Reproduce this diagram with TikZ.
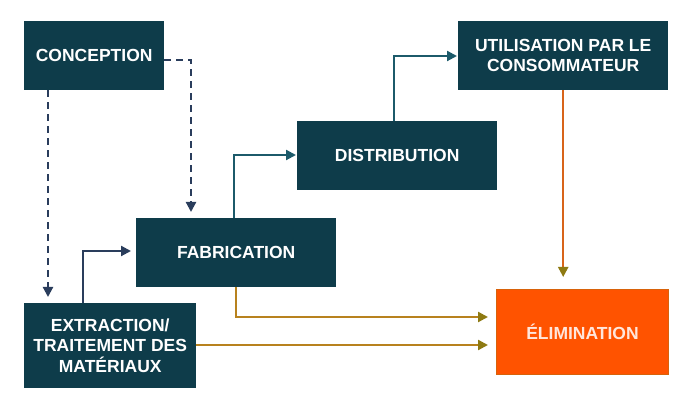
\documentclass[tikz,border=0pt]{standalone}
\usepackage{fontspec}
\setmainfont{Liberation Sans}
\usetikzlibrary{arrows.meta}
\definecolor{boxteal}{HTML}{0E3C4A}
\definecolor{navyline}{HTML}{2A3D5C}
\definecolor{tealline}{HTML}{1C5A6A}
\definecolor{oliveline}{HTML}{B8821E}
\definecolor{olivetip}{HTML}{8E7A12}
\definecolor{redline}{HTML}{D8641A}
\definecolor{elimfill}{HTML}{FF5300}
\definecolor{elimedge}{HTML}{D8620A}
\definecolor{elimtext}{HTML}{FFE6DC}
\begin{document}
\begin{tikzpicture}[x=1pt,y=-1pt,
  box/.style={fill=boxteal,text=white,font=\bfseries\fontsize{17.5}{20.5}\selectfont,align=center,inner sep=0pt,anchor=north west},
  tip/.style={-{Triangle[length=10pt,width=10pt]}},
  dashline/.style={draw=navyline,line width=2.2pt,dash pattern=on 7pt off 5pt,tip,shorten >=6pt},
  navy/.style={draw=navyline,line width=2.2pt,tip,shorten >=5pt},
  teal/.style={draw=tealline,line width=2.2pt,tip,shorten >=1pt},
  olive/.style={draw=oliveline,line width=2.2pt,-{Triangle[length=10pt,width=10pt,color=olivetip]},shorten >=8pt}
]
\useasboundingbox (0,0) rectangle (693,411);
\node[box,minimum width=140pt,minimum height=69pt] (con) at (24,21) {CONCEPTION};
\node[box,minimum width=200pt,minimum height=69pt] (fab) at (136,218) {FABRICATION};
\node[box,minimum width=200pt,minimum height=69pt] (dis) at (297,121) {DISTRIBUTION};
\node[box,minimum width=210pt,minimum height=69pt] (uti) at (458,21) {UTILISATION PAR LE\\CONSOMMATEUR};
\node[box,minimum width=172pt,minimum height=85pt] (ext) at (24,303) {EXTRACTION/\\TRAITEMENT DES\\MATÉRIAUX};
\node[box,fill=elimfill,draw=elimedge,line width=1pt,text=elimtext,minimum width=172pt,minimum height=85pt] (eli) at (496,289) {ÉLIMINATION};
% dashed
\coordinate (c1) at (48,0);
\draw[dashline] (c1 |- con.south) -- (c1 |- ext.north);
\coordinate (c2) at (191,0);
\draw[dashline] (con.east |- 0,60) -- (c2 |- 0,60) -- (c2 |- fab.north);
% solid navy / teal
\coordinate (e1) at (83,0);
\draw[navy] (e1 |- ext.north) -- (83,251) -- (fab.west |- 0,251);
\coordinate (f1) at (234,0);
\draw[teal] (f1 |- fab.north) -- (234,155) -- (dis.west |- 0,155);
\coordinate (d1) at (394,0);
\draw[teal] (d1 |- dis.north) -- (394,56) -- (uti.west |- 0,56);
% olive
\draw[olive,draw=redline,shorten >=12pt] (uti.south) -- (uti.south |- eli.north);
\coordinate (f2) at (236,0);
\draw[olive] (f2 |- fab.south) -- (236,317) -- (eli.west |- 0,317);
\draw[olive] (ext.east |- 0,345) -- (eli.west |- 0,345);
\end{tikzpicture}
\end{document}
